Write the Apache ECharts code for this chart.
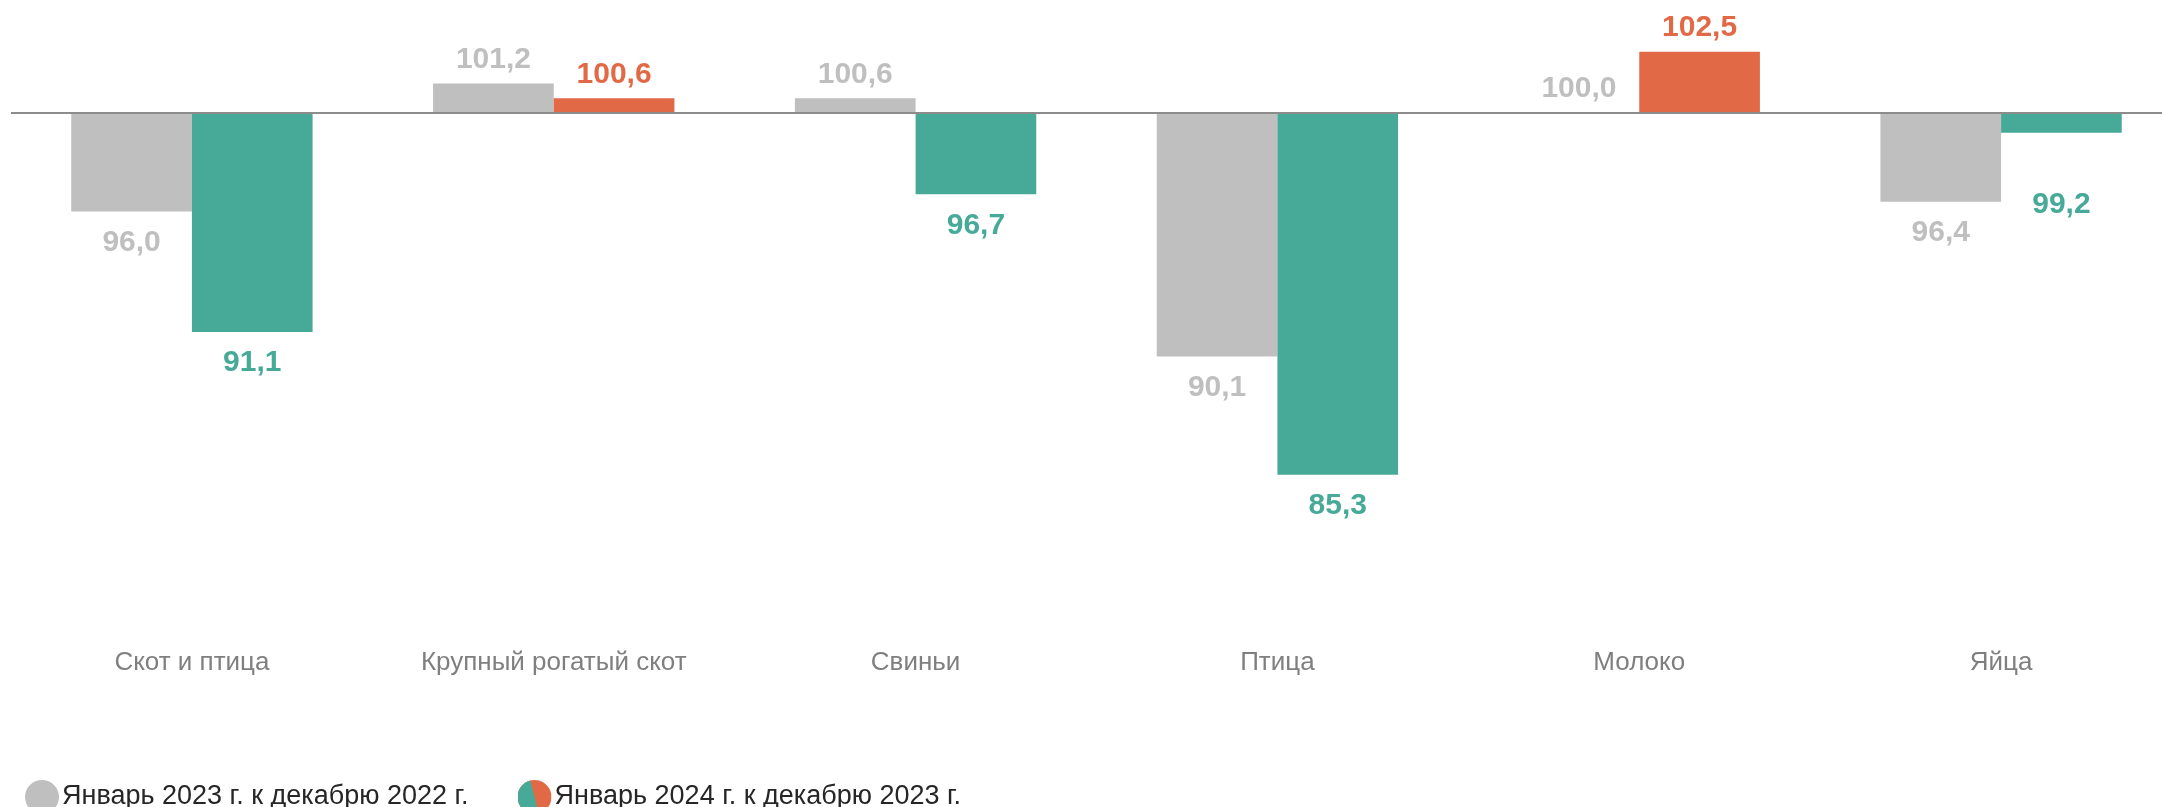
<!DOCTYPE html>
<html><head><meta charset="utf-8">
<script src="https://cdn.jsdelivr.net/npm/echarts@6/dist/echarts.min.js"></script>
<style>html,body{margin:0;padding:0;background:#fff;overflow:hidden}#c{width:2182px;height:807px}</style>
</head><body><div id="c"></div>
<script>
const categories = ['Скот и птица','Крупный рогатый скот','Свиньи','Птица','Молоко','Яйца'];
const jan2023 = [96.0,101.2,100.6,90.1,100.0,96.4];
const jan2024 = [91.1,100.6,96.7,85.3,102.5,99.2];
const seriesNames = ['Январь 2023 г. к декабрю 2022 г.','Январь 2024 г. к декабрю 2023 г.'];
const baseline = 100;

const GRAY = '#BFBFBF', GREEN = '#47AA98', ORANGE = '#E26946';
const FONT = '"Liberation Sans", Arial, sans-serif';

function fmt(v){ return v.toFixed(1).replace('.', ','); }
// extra label distance for the one label pushed further away in the reference (style only)
const extraDist = {1: {5: 57}};
function items(arr, colorFn, si){
  return arr.map((v, i) => {
    const d = +(v - baseline).toFixed(2);
    const c = colorFn(v);
    const neg = d < 0;
    let dist = neg ? 16 : 9;
    if (extraDist[si] && extraDist[si][i] != null) dist = extraDist[si][i];
    return {
      value: d, raw: v,
      itemStyle: {color: c},
      label: {position: neg ? 'bottom' : 'top', color: c, distance: dist}
    };
  });
}
const splitSvg = "<svg xmlns='http://www.w3.org/2000/svg' width='64' height='64'><clipPath id='k'><circle cx='32' cy='32' r='32'/></clipPath><g clip-path='url(#k)'><rect width='64' height='64' fill='" + ORANGE + "'/><polygon points='0,0 24,0 40,64 0,64' fill='" + GREEN + "'/></g></svg>";
const splitIcon = 'image://data:image/svg+xml;charset=utf-8,' + encodeURIComponent(splitSvg);

const chart = echarts.init(document.getElementById('c'));
const labelBase = {show: true, fontFamily: FONT, fontSize: 30, fontWeight: 'bold',
  formatter: p => fmt(p.data.raw)};
chart.setOption({
  animation: false,
  textStyle: {fontFamily: FONT},
  grid: {left: 11, right: 0, top: 0, height: 605},
  legend: {
    left: 20, top: 775, itemWidth: 34, itemHeight: 34, itemGap: 49,
    textStyle: {fontFamily: FONT, fontSize: 27, color: '#262626', padding: [0,0,0,-2]},
    data: [
      {name: seriesNames[0], icon: 'circle', itemStyle: {color: GRAY}},
      {name: seriesNames[1], icon: splitIcon}
    ]
  },
  xAxis: {
    type: 'category', data: categories,
    axisLine: {show: false}, axisTick: {show: false},
    axisLabel: {fontFamily: FONT, fontSize: 26, color: '#7F7F7F', margin: 45}
  },
  yAxis: {type: 'value', min: -20, max: 4.6, show: false, splitLine: {show: false}},
  series: [
    {
      name: seriesNames[0], type: 'bar', barGap: '0%', barCategoryGap: '33.3%',
      data: items(jan2023, () => GRAY, 0),
      label: labelBase,
      markLine: {silent: true, symbol: 'none', label: {show: false},
        lineStyle: {color: '#8C8C8C', width: 2, type: 'solid'},
        data: [{yAxis: 0}]}
    },
    {
      name: seriesNames[1], type: 'bar', barGap: '0%', barCategoryGap: '33.3%',
      itemStyle: {color: GREEN},
      data: items(jan2024, v => v > baseline ? ORANGE : GREEN, 1),
      label: labelBase
    }
  ]
});
</script></body></html>
